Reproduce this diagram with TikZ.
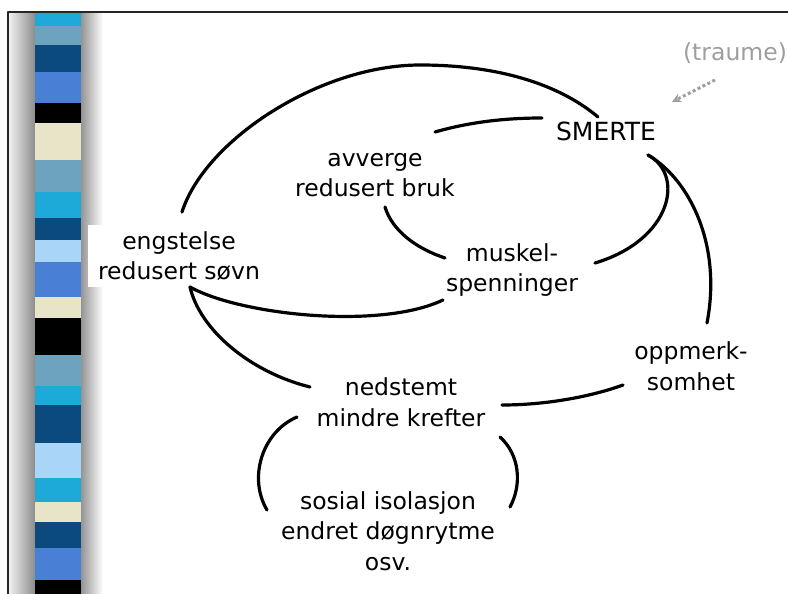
\documentclass[tikz,border=0pt]{standalone}
\usepackage{fontspec}
\setmainfont{DejaVu Sans}
\definecolor{sCyan}{HTML}{1EAAD9}
\definecolor{sGrey}{HTML}{6DA3BE}
\definecolor{sNavy}{HTML}{0B4A7F}
\definecolor{sMid}{HTML}{4A7FD6}
\definecolor{sBeige}{HTML}{E8E4C8}
\definecolor{sLight}{HTML}{A9D5F9}
\begin{document}
\begin{tikzpicture}[x=1pt,y=-1pt,>=stealth, line join=round, line cap=round,
	lbl/.style={font=\fontsize{23.5}{30.5}\selectfont, align=center, inner sep=0pt},
	link/.style={line width=3.2pt}]
	\useasboundingbox (0,0) rectangle (788,594);
	% stripe with shadow
	\shade[left color=black!6, right color=black!45] (9,13) rectangle (35,594);
	\shade[left color=black!42, right color=white] (81,13) rectangle (103,594);
	\foreach \ya/\yb/\c in {13/26/sCyan, 26/45/sGrey, 45/72/sNavy, 72/103/sMid, 103/123/black,
		123/160/sBeige, 160/192/sGrey, 192/218/sCyan, 218/240/sNavy, 240/262/sLight, 262/297/sMid,
		297/318/sBeige, 318/355/black, 355/386/sGrey, 386/405/sCyan, 405/443/sNavy, 443/478/sLight,
		478/502/sCyan, 502/522/sBeige, 522/548/sNavy, 548/580/sMid, 580/594/black}
		\fill[\c] (35,\ya) rectangle (81,\yb);
	\draw[line width=1.2pt, black!85] (8,594) -- (8,12) -- (788,12);
	% nodes
	\node[lbl, font=\fontsize{25}{30}\selectfont] (smerte) at (606,131) {SMERTE};
	\node[lbl, text=black!38] (traume) at (735,53) {(traume)};
	\node[lbl] (avverge) at (375,175) {avverge\\redusert bruk};
	\node[lbl, fill=white, inner xsep=10pt, inner ysep=6pt] (eng) at (179,256) {engstelse\\redusert søvn};
	\node[lbl] (musk) at (512,270) {muskel-\\spenninger};
	\node[lbl] (opp) at (691,366) {oppmerk-\\somhet};
	\node[lbl] (ned) at (401,402) {nedstemt\\mindre krefter};
	\node[lbl] (sos) at (388,531) {sosial isolasjon\\endret døgnrytme\\osv.};
	% connectors
	\draw[link] ([shift={(3,-44)}]eng.center) .. controls (205,140) and (320,65) .. (420,65)
		.. controls (500,65) and (560,85) .. ([shift={(-8,-14)}]smerte.center);
	\draw[link] ([shift={(60,-43)}]avverge.center) .. controls (470,122) and (505,118) .. ([shift={(-64,-13)}]smerte.center);
	\draw[link] ([shift={(10,32)}]avverge.center) .. controls (392,230) and (415,248) .. ([shift={(-67,-12)}]musk.center);
	\draw[link] ([shift={(42,24)}]smerte.center) .. controls (685,175) and (672,240) .. ([shift={(83,-7)}]musk.center);
	\draw[link] ([shift={(42,24)}]smerte.center) .. controls (690,180) and (722,245) .. ([shift={(16,-43)}]opp.center);
	\draw[link] ([shift={(-68,19)}]opp.center) .. controls (590,397) and (545,405) .. ([shift={(101,3)}]ned.center);
	\draw[link] ([shift={(11,31)}]eng.center) .. controls (240,315) and (380,330) .. ([shift={(-69,30)}]musk.center);
	\draw[link] ([shift={(11,31)}]eng.center) .. controls (200,330) and (250,372) .. ([shift={(-91,-15)}]ned.center);
	\draw[link] ([shift={(-104,15)}]ned.center) .. controls (262,432) and (248,478) .. ([shift={(-121,-21)}]sos.center);
	\draw[link] ([shift={(99,35)}]ned.center) .. controls (520,455) and (522,485) .. ([shift={(122,-24)}]sos.center);
	\draw[->, black!38, line width=3pt, dash pattern=on 3pt off 2.5pt, line cap=butt]
		([shift={(-20,27)}]traume.center) -- ([shift={(66,-29)}]smerte.center);
\end{tikzpicture}
\end{document}
